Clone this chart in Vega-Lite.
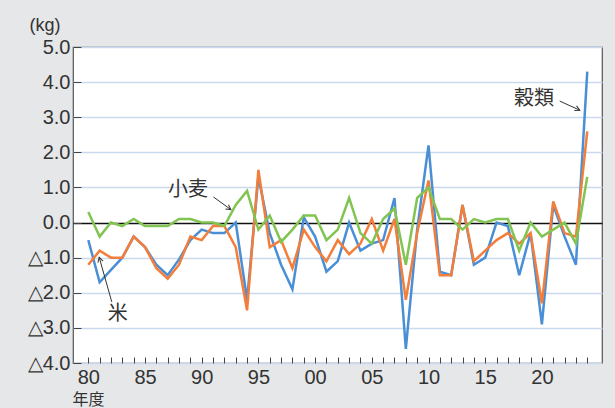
{
  "$schema": "https://vega.github.io/schema/vega-lite/v6.json",
  "width": 529,
  "height": 316,
  "autosize": "none",
  "padding": {"left": 73, "top": 47, "right": 13, "bottom": 45},
  "background": "#e6e7e8",
  "config": {
    "view": {"fill": "white", "stroke": "#555", "strokeWidth": 1.2},
    "font": "Liberation Sans"
  },
  "datasets": {
    "series": [
      {"year": 1980, "穀類": -0.5, "米": -1.2, "小麦": 0.3},
      {"year": 1981, "穀類": -1.7, "米": -0.8, "小麦": -0.4},
      {"year": 1982, "穀類": -1.35, "米": -1.0, "小麦": 0.0},
      {"year": 1983, "穀類": -1.0, "米": -1.0, "小麦": -0.1},
      {"year": 1984, "穀類": -0.4, "米": -0.4, "小麦": 0.1},
      {"year": 1985, "穀類": -0.7, "米": -0.7, "小麦": -0.1},
      {"year": 1986, "穀類": -1.2, "米": -1.3, "小麦": -0.1},
      {"year": 1987, "穀類": -1.5, "米": -1.6, "小麦": -0.1},
      {"year": 1988, "穀類": -1.05, "米": -1.2, "小麦": 0.1},
      {"year": 1989, "穀類": -0.5, "米": -0.4, "小麦": 0.1},
      {"year": 1990, "穀類": -0.2, "米": -0.5, "小麦": 0.0},
      {"year": 1991, "穀類": -0.3, "米": -0.1, "小麦": 0.0},
      {"year": 1992, "穀類": -0.3, "米": -0.1, "小麦": -0.1},
      {"year": 1993, "穀類": 0.0, "米": -0.7, "小麦": 0.5},
      {"year": 1994, "穀類": -2.2, "米": -2.5, "小麦": 0.9},
      {"year": 1995, "穀類": 1.3, "米": 1.5, "小麦": -0.2},
      {"year": 1996, "穀類": -0.3, "米": -0.7, "小麦": 0.2},
      {"year": 1997, "穀類": -1.2, "米": -0.5, "小麦": -0.55},
      {"year": 1998, "穀類": -1.9, "米": -1.3, "小麦": -0.2},
      {"year": 1999, "穀類": 0.15, "米": -0.2, "小麦": 0.2},
      {"year": 2000, "穀類": -0.4, "米": -0.7, "小麦": 0.2},
      {"year": 2001, "穀類": -1.4, "米": -1.1, "小麦": -0.5},
      {"year": 2002, "穀類": -1.1, "米": -0.5, "小麦": -0.2},
      {"year": 2003, "穀類": 0.0, "米": -0.9, "小麦": 0.7},
      {"year": 2004, "穀類": -0.8, "米": -0.6, "小麦": -0.3},
      {"year": 2005, "穀類": -0.6, "米": 0.1, "小麦": -0.6},
      {"year": 2006, "穀類": -0.5, "米": -0.8, "小麦": 0.1},
      {"year": 2007, "穀類": 0.7, "米": 0.1, "小麦": 0.4},
      {"year": 2008, "穀類": -3.6, "米": -2.2, "小麦": -1.2},
      {"year": 2009, "穀類": -0.2, "米": -0.3, "小麦": 0.7},
      {"year": 2010, "穀類": 2.2, "米": 1.2, "小麦": 1.0},
      {"year": 2011, "穀類": -1.4, "米": -1.5, "小麦": 0.1},
      {"year": 2012, "穀類": -1.5, "米": -1.5, "小麦": 0.1},
      {"year": 2013, "穀類": 0.5, "米": 0.5, "小麦": -0.2},
      {"year": 2014, "穀類": -1.2, "米": -1.1, "小麦": 0.1},
      {"year": 2015, "穀類": -1.0, "米": -0.8, "小麦": 0.0},
      {"year": 2016, "穀類": 0.0, "米": -0.5, "小麦": 0.1},
      {"year": 2017, "穀類": -0.1, "米": -0.3, "小麦": 0.1},
      {"year": 2018, "穀類": -1.5, "米": -0.6, "小麦": -0.8},
      {"year": 2019, "穀類": -0.3, "米": -0.3, "小麦": 0.0},
      {"year": 2020, "穀類": -2.9, "米": -2.3, "小麦": -0.4},
      {"year": 2021, "穀類": 0.5, "米": 0.6, "小麦": -0.2},
      {"year": 2022, "穀類": -0.4, "米": -0.3, "小麦": 0.0},
      {"year": 2023, "穀類": -1.2, "米": -0.4, "小麦": -0.6},
      {"year": 2024, "穀類": 4.3, "米": 2.6, "小麦": 1.3}
    ],
    "labels": [
      {"label": "小麦", "year": 1988.8, "value": 0.92},
      {"label": "米", "year": 1982.6, "value": -2.6},
      {"label": "穀類", "year": 2019.3, "value": 3.51}
    ],
    "arrows": [
      {"label": "小麦", "year": 1992.57, "value": 0.37, "year0": 1991.03, "value0": 0.73},
      {"label": "米", "year": 1980.96, "value": -0.99, "year0": 1982.07, "value0": -2.26},
      {"label": "穀類", "year": 2023.34, "value": 3.2, "year0": 2021.57, "value0": 3.46}
    ]
  },
  "encoding": {
    "x": {
      "field": "year", "type": "quantitative",
      "scale": {"domain": [1978.65, 2025.3], "nice": false, "zero": false},
      "axis": {
        "values": [1980,1981,1982,1983,1984,1985,1986,1987,1988,1989,1990,1991,1992,1993,1994,1995,1996,1997,1998,1999,2000,2001,2002,2003,2004,2005,2006,2007,2008,2009,2010,2011,2012,2013,2014,2015,2016,2017,2018,2019,2020,2021,2022,2023,2024],
        "labelExpr": "datum.value % 5 === 0 ? slice(toString(datum.value), 2) : ''",
        "labelFlush": false, "labelOverlap": false, "labelBound": false,
        "grid": false,
        "offset": -6,
        "domain": false,
        "tickSize": 6, "tickColor": "#444", "tickWidth": 1,
        "labelFontSize": 20, "labelColor": "#333", "labelPadding": 4,
        "title": "年度", "titleFont": "Noto Sans CJK JP", "titleFontSize": 16,
        "titleFontWeight": "normal", "titleColor": "#333",
        "titleX": 15, "titleY": 50, "titleAlign": "center", "titleBaseline": "bottom"
      }
    },
    "y": {
      "field": "value", "type": "quantitative",
      "scale": {"domain": [-4, 5], "nice": false},
      "axis": {
        "values": [-4,-3,-2,-1,0,1,2,3,4,5],
        "labelExpr": "datum.value < 0 ? '△' + format(-datum.value, '.1f') : format(datum.value, '.1f')",
        "labelOverlap": false,
        "grid": true,
        "gridColor": {"condition": {"test": "datum.value === 0", "value": "#111"}, "value": "#c9d9ee"},
        "gridWidth": 1.5,
        "offset": -8,
        "domain": false,
        "tickSize": 8, "tickColor": "#444", "tickWidth": 1,
        "labelFontSize": 20, "labelColor": "#333", "labelPadding": 3,
        "title": "(kg)", "titleAngle": 0, "titleAlign": "left", "titleBaseline": "alphabetic",
        "titleX": -52, "titleY": -17, "titleFontSize": 18, "titleFontWeight": "normal",
        "titleColor": "#333"
      }
    }
  },
  "layer": [
    {
      "data": {"name": "series"},
      "transform": [{"fold": ["穀類", "米", "小麦"], "as": ["item", "value"]}],
      "mark": {"type": "line", "strokeWidth": 2.5},
      "encoding": {
        "color": {
          "field": "item", "type": "nominal",
          "scale": {"domain": ["穀類", "米", "小麦"], "range": ["#4a8fd6", "#f37d3a", "#82c451"]},
          "legend": null
        }
      }
    },
    {
      "data": {"name": "arrows"},
      "mark": {"type": "rule", "color": "#333", "strokeWidth": 1},
      "encoding": {
        "x2": {"field": "year0"},
        "y2": {"field": "value0"}
      }
    },
    {
      "data": {"name": "arrows"},
      "transform": [{"filter": "datum.label === '小麦'"}],
      "mark": {"type": "point", "shape": "M-1,-0.55L0,0L-1,0.55", "filled": false, "stroke": "#333", "strokeWidth": 1, "size": 90, "angle": 36, "opacity": 1}
    },
    {
      "data": {"name": "arrows"},
      "transform": [{"filter": "datum.label === '米'"}],
      "mark": {"type": "point", "shape": "M-1,-0.55L0,0L-1,0.55", "filled": false, "stroke": "#333", "strokeWidth": 1, "size": 90, "angle": 254.6, "opacity": 1}
    },
    {
      "data": {"name": "arrows"},
      "transform": [{"filter": "datum.label === '穀類'"}],
      "mark": {"type": "point", "shape": "M-1,-0.55L0,0L-1,0.55", "filled": false, "stroke": "#333", "strokeWidth": 1, "size": 90, "angle": 25, "opacity": 1}
    },
    {
      "data": {"name": "labels"},
      "mark": {"type": "text", "font": "Noto Sans CJK JP", "fontSize": 20, "color": "#333", "align": "center", "baseline": "middle"},
      "encoding": {
        "text": {"field": "label"}
      }
    }
  ]
}
